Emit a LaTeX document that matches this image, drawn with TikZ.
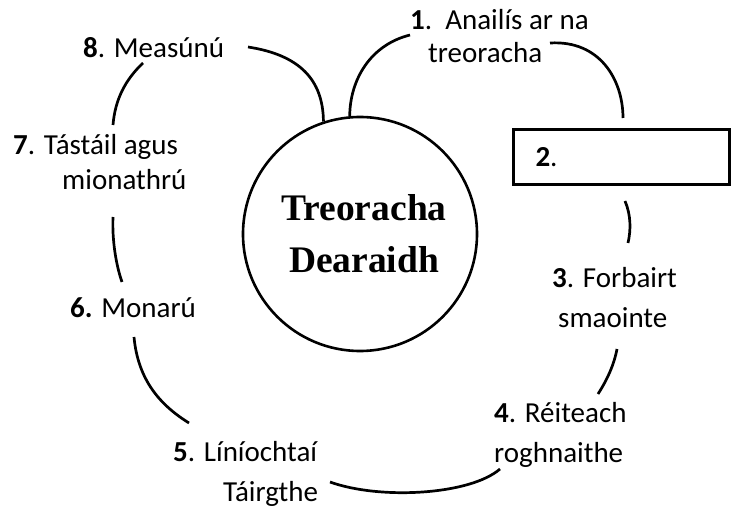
\documentclass[tikz,border=0pt]{standalone}
\usepackage{fontspec}
\setmainfont{Carlito}
\newfontfamily\titlefont{Liberation Serif}
\begin{document}
\begin{tikzpicture}[x=1pt,y=-1pt,
  lbl/.style={anchor=base west, inner sep=0pt, font=\fontsize{29}{34}\selectfont},
  conn/.style={line width=2.7pt},
  hub/.style={circle, draw, line width=2.6pt, minimum size=234pt, inner sep=0pt, align=center,
    font=\titlefont\bfseries\fontsize{37.5}{52}\selectfont},
  stepbox/.style={draw, line width=3.4pt, minimum width=216pt, minimum height=55pt,
    text width=172pt, align=left, inner sep=0pt, font=\fontsize{29}{34}\selectfont}]
\useasboundingbox (0,0) rectangle (734,510);

% centre circle
\node[hub] (c) at (360,234) {\hspace*{8pt}Treoracha\\\hspace*{8pt}Dearaidh};

% box 2
\node[stepbox] (box2) at (621.5,157) {\textbf{2}.};

% labels
\node[lbl] (l1a) at (410,30) {\textbf{1}.\ \ Anailís ar na};
\node[lbl] (l1b) at (428,63) {treoracha};
\node[lbl] (l3a) at (552,288) {\textbf{3}. Forbairt};
\node[lbl] (l3b) at (558,328) {smaointe};
\node[lbl] (l4a) at (494,423) {\textbf{4}. Réiteach};
\node[lbl] (l4b) at (494,463) {roghnaithe};
\node[lbl] (l5a) at (173,462) {\textbf{5}. Líníochtaí};
\node[lbl] (l5b) at (223,502) {Táirgthe};
\node[lbl] (l6) at (70,318) {\textbf{6.} Monarú};
\node[lbl] (l7a) at (13,155) {\textbf{7}. Tástáil agus};
\node[lbl] (l7b) at (62,190) {mionathrú};
\node[lbl] (l8) at (83,58) {\textbf{8}. Measúnú};

% connector end points
\coordinate (p8) at (248,47);
\coordinate (p1l) at (410,35);
\coordinate (p1r) at (550,43);
\coordinate (q1r) at (623,118);
\coordinate (p2) at (625,201);
\coordinate (q2) at (628,243);
\coordinate (p3) at (617,349);
\coordinate (q3) at (598,394);
\coordinate (p4) at (500,469);
\coordinate (q4) at (330,482);
\coordinate (p5) at (189,423);
\coordinate (q5) at (134,337);
\coordinate (p6) at (122,282);
\coordinate (q6) at (113,217);
\coordinate (p7) at (113,125);
\coordinate (q7) at (143,63);

% connectors
\draw[conn] (p8) .. controls (300,55) and (323,80) .. (c.108);
\draw[conn] (p1l) .. controls (370,45) and (350,80) .. (c.95);
\draw[conn] (p1r) .. controls (600,40) and (623,80) .. (q1r);
\draw[conn] (p2) .. controls (631,215) and (631,230) .. (q2);
\draw[conn] (p3) .. controls (614,365) and (607,380) .. (q3);
\draw[conn] (p4) .. controls (470,495) and (380,500) .. (q4);
\draw[conn] (p5) .. controls (160,405) and (138,380) .. (q5);
\draw[conn] (p6) .. controls (116,265) and (112,240) .. (q6);
\draw[conn] (p7) .. controls (115,100) and (125,80) .. (q7);
\end{tikzpicture}
\end{document}
